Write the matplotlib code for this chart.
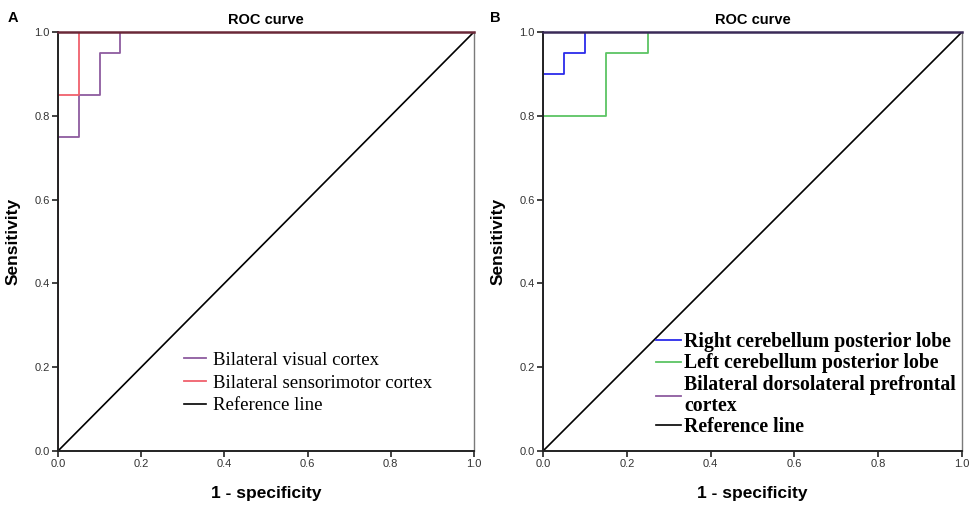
import matplotlib
matplotlib.use("Agg")
import matplotlib.pyplot as plt

# Panel A data
visual_fpr = [0, 0, 0.05, 0.05, 0.10, 0.10, 0.15, 0.15, 1.0]
visual_tpr = [0, 0.75, 0.75, 0.85, 0.85, 0.95, 0.95, 1.0, 1.0]
sensori_fpr = [0, 0, 0.05, 0.05, 1.0]
sensori_tpr = [0, 0.85, 0.85, 1.0, 1.0]

# Panel B data
rcpl_fpr = [0, 0, 0.05, 0.05, 0.10, 0.10, 1.0]
rcpl_tpr = [0, 0.90, 0.90, 0.95, 0.95, 1.0, 1.0]
lcpl_fpr = [0, 0, 0.15, 0.15, 0.25, 0.25, 1.0]
lcpl_tpr = [0, 0.80, 0.80, 0.95, 0.95, 1.0, 1.0]
dlpfc_fpr = [0, 0, 1.0]
dlpfc_tpr = [0, 1.0, 1.0]

ref = [0, 1]
ticks = [0.0, 0.2, 0.4, 0.6, 0.8, 1.0]
tick_labels = ["0.0", "0.2", "0.4", "0.6", "0.8", "1.0"]

PURPLE = "#8e5c9f"
RED = "#f0606c"
BLUE = "#2b2bea"
GREEN = "#5cc463"

fig = plt.figure(figsize=(9.76, 5.13), dpi=100)
axA = fig.add_axes([0.0594, 0.1209, 0.4262, 0.8168])
axB = fig.add_axes([0.5564, 0.1209, 0.4293, 0.8168])

def style(ax, topcolor):
    ax.set_xlim(0, 1)
    ax.set_ylim(0, 1)
    ax.set_xticks(ticks)
    ax.set_xticklabels(tick_labels)
    ax.set_yticks(ticks)
    ax.set_yticklabels(tick_labels)
    ax.tick_params(direction="out", length=4, width=1.2, labelsize=8,
                   labelcolor="#333333", color="#222222", pad=2)
    for s in ["left", "bottom"]:
        ax.spines[s].set_linewidth(1.4)
        ax.spines[s].set_color("#222222")
    ax.spines["right"].set_linewidth(1.0)
    ax.spines["right"].set_color("#7a7a7a")
    ax.spines["top"].set_linewidth(1.8)
    ax.spines["top"].set_color(topcolor)
    ax.set_title("ROC curve", fontsize=10.5, fontweight="bold", pad=6,
                 family="Liberation Sans")
    ax.set_xlabel("1 - specificity", fontsize=12.5, fontweight="bold",
                  family="Liberation Sans", labelpad=12)
    ax.set_ylabel("Sensitivity", fontsize=12.5, fontweight="bold",
                  family="Liberation Sans", labelpad=10)
    for t in ax.get_xticklabels() + ax.get_yticklabels():
        t.set_family("Liberation Sans")

# Panel A
axA.plot(visual_fpr, visual_tpr, color=PURPLE, lw=1.3, label="Bilateral visual cortex", zorder=2)
axA.plot(sensori_fpr, sensori_tpr, color=RED, lw=1.3, label="Bilateral sensorimotor cortex", zorder=2.1)
axA.plot(ref, ref, color="black", lw=1.2, label="Reference line", zorder=2.2)
style(axA, "#6a2838")
axA.legend(loc="upper left", bbox_to_anchor=(0.286, 0.255), frameon=False,
           handlelength=1.15, handletextpad=0.37, labelspacing=0.3,
           borderaxespad=0, prop={"family": "Liberation Serif", "size": 13.5})

# Panel B
axB.plot(dlpfc_fpr, dlpfc_tpr, color=PURPLE, lw=1.3,
         label="Bilateral dorsolateral prefrontal\ncortex", zorder=2.0)
axB.plot(lcpl_fpr, lcpl_tpr, color=GREEN, lw=1.3, label="Left cerebellum posterior lobe", zorder=2.1)
axB.plot(rcpl_fpr, rcpl_tpr, color=BLUE, lw=1.3, label="Right cerebellum posterior lobe", zorder=2.2)
axB.plot(ref, ref, color="black", lw=1.2, label="Reference line", zorder=2.3)
style(axB, "#3a2a58")
h, l = axB.get_legend_handles_labels()
order = [2, 1, 0, 3]
legB = axB.legend([h[i] for i in order], [l[i] for i in order],
                  loc="upper left", bbox_to_anchor=(0.25, 0.303), frameon=False,
                  handlelength=1.3, handletextpad=0.15, labelspacing=0.08,
                  borderaxespad=0,
                  prop={"family": "Liberation Serif", "size": 14.2, "weight": "bold"})
for t in legB.get_texts():
    t.set_linespacing(1.05)

fig.text(0.008, 0.965, "A", fontsize=10.5, fontweight="bold", family="Liberation Sans",
         va="center")
fig.text(0.502, 0.965, "B", fontsize=10.5, fontweight="bold", family="Liberation Sans",
         va="center")

fig.savefig("out.png", dpi=100)
